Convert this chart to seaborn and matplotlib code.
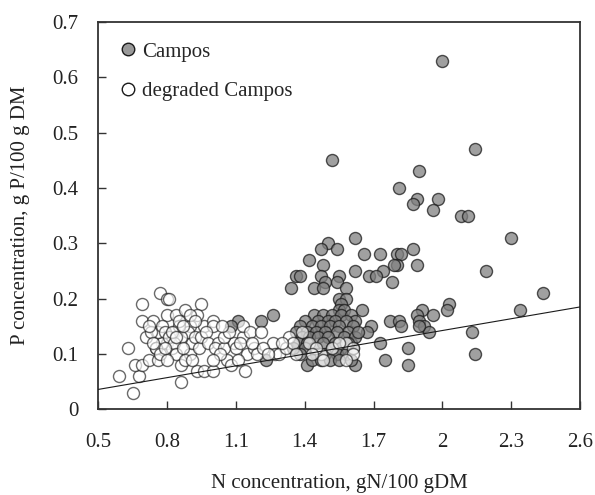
import matplotlib
matplotlib.use("Agg")
import matplotlib.pyplot as plt
import seaborn as sns
import pandas as pd
from matplotlib.lines import Line2D

# N and P concentrations
campos_n = [2.00, 2.14, 1.52, 1.90, 1.81, 1.89, 1.87, 1.98, 1.96, 2.08, 2.11, 2.30,
            1.62, 1.50, 1.47, 1.54, 1.87, 1.42, 1.66, 1.73, 1.80, 1.82, 1.80, 1.79,
            1.89, 1.48, 1.62, 1.74, 2.19, 1.68, 1.71, 1.36, 1.38, 1.47, 1.55, 1.49,
            1.54, 1.78, 1.34, 1.44, 1.48, 1.58, 1.55, 1.58, 1.56, 1.55, 1.57, 2.44,
            2.03, 2.02, 2.34, 1.91, 1.89, 1.96, 1.65, 1.90, 1.92, 1.94, 1.90, 1.77,
            1.81, 1.82, 1.69, 1.67, 2.13, 1.73, 1.85, 2.14, 1.75, 1.85, 1.62, 1.41,
            1.26, 1.21, 1.11, 1.08, 1.23,
            1.44, 1.48, 1.52, 1.56, 1.60, 1.62, 1.40, 1.46, 1.50, 1.53, 1.58, 1.61,
            1.38, 1.43, 1.47, 1.51, 1.55, 1.59, 1.36, 1.41, 1.45, 1.49, 1.54, 1.57,
            1.39, 1.42, 1.46, 1.50, 1.53, 1.60, 1.37, 1.41, 1.44, 1.48, 1.52, 1.56,
            1.40, 1.45, 1.49, 1.54, 1.58, 1.62, 1.38, 1.43, 1.47, 1.51, 1.55, 1.60,
            1.63, 1.61, 1.35, 1.59]
campos_p = [0.63, 0.47, 0.45, 0.43, 0.40, 0.38, 0.37, 0.38, 0.36, 0.35, 0.35, 0.31,
            0.31, 0.30, 0.29, 0.29, 0.29, 0.27, 0.28, 0.28, 0.28, 0.28, 0.26, 0.26,
            0.26, 0.26, 0.25, 0.25, 0.25, 0.24, 0.24, 0.24, 0.24, 0.24, 0.24, 0.23,
            0.23, 0.23, 0.22, 0.22, 0.22, 0.22, 0.20, 0.20, 0.19, 0.18, 0.18, 0.21,
            0.19, 0.18, 0.18, 0.18, 0.17, 0.17, 0.18, 0.16, 0.15, 0.14, 0.15, 0.16,
            0.16, 0.15, 0.15, 0.14, 0.14, 0.12, 0.11, 0.10, 0.09, 0.08, 0.08, 0.08,
            0.17, 0.16, 0.16, 0.15, 0.09,
            0.17, 0.17, 0.17, 0.17, 0.17, 0.16, 0.16, 0.16, 0.16, 0.16, 0.16, 0.15,
            0.15, 0.15, 0.15, 0.15, 0.15, 0.14, 0.14, 0.14, 0.14, 0.14, 0.14, 0.13,
            0.13, 0.13, 0.13, 0.13, 0.12, 0.12, 0.12, 0.12, 0.11, 0.12, 0.11, 0.11,
            0.11, 0.10, 0.10, 0.10, 0.10, 0.13, 0.10, 0.09, 0.09, 0.09, 0.09, 0.09,
            0.14, 0.11, 0.11, 0.12]

degraded_n = [0.59, 0.65, 0.68, 0.63, 0.66, 0.69, 0.72, 0.69, 0.69, 0.71, 0.74, 0.75,
              0.76, 0.77, 0.80, 0.81, 0.80, 0.84, 0.88, 0.83, 0.80, 0.82, 0.86, 0.86,
              0.90, 0.91, 0.93, 0.96, 1.00, 0.95, 0.93, 0.96, 1.00, 1.00, 0.90, 0.89,
              0.85, 0.86, 0.78, 0.76, 0.73, 0.75,
              0.72, 0.78, 0.79, 0.81, 0.83, 0.84, 0.87, 0.88, 0.92, 0.94, 0.95, 0.97,
              0.98, 0.77, 0.80, 0.82, 0.85, 0.90, 0.92, 0.87, 0.79, 0.74, 0.91, 0.84,
              1.02, 1.01, 1.05, 1.06, 1.08, 1.09, 1.13, 1.13, 1.16, 1.15, 1.18, 1.19,
              1.21, 1.26, 1.27, 1.29, 1.32, 1.33, 1.35, 1.47, 1.48, 1.58, 1.61, 1.61,
              1.39, 1.03, 1.05, 1.07, 1.10, 1.12, 1.04, 1.11, 1.17, 1.22, 1.24, 1.30,
              1.36, 1.42, 1.45, 1.52, 1.55, 1.43, 1.58, 1.14, 1.00]
degraded_p = [0.06, 0.03, 0.06, 0.11, 0.08, 0.08, 0.09, 0.19, 0.16, 0.13, 0.16, 0.11,
              0.09, 0.21, 0.20, 0.20, 0.17, 0.17, 0.18, 0.14, 0.12, 0.11, 0.05, 0.08,
              0.10, 0.12, 0.07, 0.07, 0.07, 0.19, 0.17, 0.15, 0.16, 0.15, 0.15, 0.14,
              0.15, 0.13, 0.12, 0.14, 0.14, 0.11,
              0.15, 0.15, 0.14, 0.13, 0.12, 0.10, 0.11, 0.09, 0.13, 0.11, 0.13, 0.14,
              0.12, 0.10, 0.09, 0.14, 0.16, 0.17, 0.16, 0.15, 0.11, 0.12, 0.09, 0.13,
              0.12, 0.11, 0.11, 0.09, 0.08, 0.12, 0.13, 0.15, 0.14, 0.10, 0.11, 0.10,
              0.14, 0.12, 0.10, 0.10, 0.11, 0.13, 0.12, 0.10, 0.09, 0.12, 0.11, 0.10,
              0.14, 0.10, 0.13, 0.14, 0.11, 0.12, 0.15, 0.09, 0.12, 0.11, 0.10, 0.12,
              0.10, 0.12, 0.11, 0.11, 0.12, 0.10, 0.09, 0.07, 0.09]

# straight reference line drawn in the chart
line_n = [0.5, 2.6]
line_p = [0.036, 0.185]

x_ticks = [0.5, 0.8, 1.1, 1.4, 1.7, 2.0, 2.3, 2.6]
x_tick_labels = ["0.5", "0.8", "1.1", "1.4", "1.7", "2", "2.3", "2.6"]
y_ticks = [0, 0.1, 0.2, 0.3, 0.4, 0.5, 0.6, 0.7]
y_tick_labels = ["0", "0.1", "0.2", "0.3", "0.4", "0.5", "0.6", "0.7"]

campos_df = pd.DataFrame({"N": campos_n, "P": campos_p})
degraded_df = pd.DataFrame({"N": degraded_n, "P": degraded_p})

sns.set_style("ticks")
plt.rcParams["font.family"] = ["Liberation Serif", "DejaVu Serif"]

fig = plt.figure(figsize=(5.95, 4.95), dpi=100)
ax = fig.add_axes([0.165, 0.173, 0.81, 0.783])

# campos first, degraded on top
sns.scatterplot(data=campos_df, x="N", y="P", ax=ax, s=75, color="#808080",
                alpha=0.75, edgecolor="#1a1a1a", linewidth=1.0, zorder=3)
sns.scatterplot(data=degraded_df, x="N", y="P", ax=ax, s=75, color="white",
                alpha=0.65, edgecolor="#1a1a1a", linewidth=1.0, zorder=4)
ax.plot(line_n, line_p, color="#1a1a1a", lw=0.8, zorder=5)

ax.set_xlim(0.5, 2.6)
ax.set_ylim(0, 0.7)
ax.set_xticks(x_ticks)
ax.set_xticklabels(x_tick_labels)
ax.set_yticks(y_ticks)
ax.set_yticklabels(y_tick_labels)
ax.tick_params(axis="both", direction="in", length=6, width=1, color="#333333",
               labelsize=15, labelcolor="#222222")
ax.tick_params(axis="x", pad=17)
ax.tick_params(axis="y", pad=14)

for side in ["left", "right", "top", "bottom"]:
    ax.spines[side].set_visible(True)
    ax.spines[side].set_color("#333333")
    ax.spines[side].set_linewidth(1.3)

ax.set_xlabel("N concentration, gN/100 gDM", fontsize=15, color="#222222", labelpad=16)
ax.set_ylabel("P concentration, g P/100 g DM", fontsize=15, color="#222222", labelpad=16)

handles = [
    Line2D([], [], marker="o", ls="", markersize=9, markerfacecolor="#999999",
           markeredgecolor="#1a1a1a", label="Campos"),
    Line2D([], [], marker="o", ls="", markersize=9, markerfacecolor="white",
           markeredgecolor="#1a1a1a", label="degraded Campos"),
]
ax.legend(handles=handles, loc="upper left", frameon=False, fontsize=15,
          handlelength=1.4, handletextpad=-0.05, labelspacing=0.95,
          borderaxespad=0.35, bbox_to_anchor=(0.0, 0.988))

fig.savefig("out.png", dpi=100)
